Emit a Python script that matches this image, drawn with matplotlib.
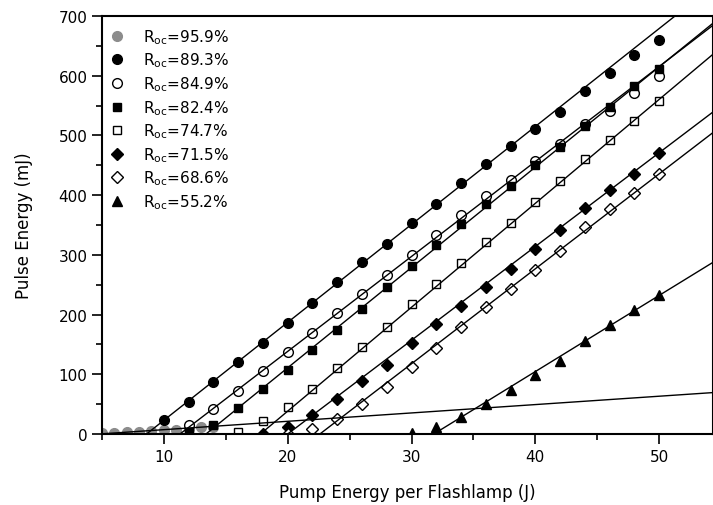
import matplotlib
matplotlib.use("Agg")
import matplotlib.pyplot as plt
import numpy as np

# ── Data ──────────────────────────────────────────────────────────────────────
labels = ["95.9%", "89.3%", "84.9%", "82.4%", "74.7%", "71.5%", "68.6%", "55.2%"]

x_959 = np.arange(5, 15, 1)
y_959 = [1, 2, 3, 4, 5.5, 7, 7.5, 9, 11, 12.5]

x_893 = np.arange(10, 51, 2)
y_893 = [23, 54, 87, 121, 153, 186, 219, 254, 288, 319, 353, 386, 420, 452,
         483, 511, 540, 575, 605, 634, 659]

x_849 = np.arange(12, 51, 2)
y_849 = [15, 42, 72, 105, 138, 169, 202, 235, 266, 300, 334, 366, 398, 425,
         457, 486, 519, 541, 571, 600]

x_824 = np.arange(12, 51, 2)
y_824 = [3, 15, 43, 75, 107, 141, 175, 210, 246, 281, 316, 352, 386, 416,
         450, 480, 515, 547, 582, 612]

x_747 = np.arange(16, 51, 2)
y_747 = [4, 21, 45, 76, 110, 146, 180, 218, 251, 287, 321, 354, 389, 424,
         460, 492, 524, 557]

x_715 = np.arange(18, 51, 2)
y_715 = [0, 12, 31, 59, 88, 116, 152, 184, 214, 246, 277, 310, 341, 378,
         408, 436, 471]

x_686 = np.arange(20, 51, 2)
y_686 = [0, 9, 25, 51, 79, 113, 144, 180, 213, 243, 274, 307, 346, 376,
         404, 436]

x_552 = np.arange(30, 51, 2)
y_552 = [2, 12, 28, 50, 73, 98, 123, 156, 183, 207, 232]

# linear fits: threshold (J) and slope (mJ/J)
fit_thr   = [4.8, 8.6, 11.3, 13.4, 17.8, 20.0, 22.6, 31.8]
fit_slope = [1.4, 16.4, 15.9, 16.8, 17.4, 15.7, 15.9, 12.75]

xs = [x_959, x_893, x_849, x_824, x_747, x_715, x_686, x_552]
ys = [y_959, y_893, y_849, y_824, y_747, y_715, y_686, y_552]

markers = ["o", "o", "o", "s", "s", "D", "D", "^"]
faces   = ["#8c8c8c", "black", "white", "black", "white", "black", "white", "black"]
edges   = ["#8c8c8c", "black", "black", "black", "black", "black", "black", "black"]
sizes   = [7, 7, 7, 6, 6, 6, 6, 7.5]

# ── Figure ────────────────────────────────────────────────────────────────────
fig = plt.figure(figsize=(7.13, 5.06), dpi=100)
ax = fig.add_axes([0.143, 0.1403, 0.857, 0.8261])

for i in range(len(labels)):
    ax.plot(xs[i], ys[i], linestyle="none", marker=markers[i], ms=sizes[i],
            mfc=faces[i], mec=edges[i], mew=1.0, zorder=2,
            label=r"R$\mathregular{_{oc}}$=" + labels[i])
    xf = np.array([fit_thr[i], 60])
    ax.plot(xf, fit_slope[i] * (xf - fit_thr[i]), color="black", lw=1.0,
            zorder=3)

ax.set_xlim(5, 54.35)
ax.set_ylim(0, 700)
ax.set_xticks([10, 20, 30, 40, 50])
ax.set_xticks([5, 15, 25, 35, 45], minor=True)
ax.set_yticks(np.arange(0, 701, 100))
ax.set_yticks(np.arange(50, 700, 100), minor=True)
ax.tick_params(which="major", direction="out", length=7, width=1.2, labelsize=11)
ax.tick_params(which="minor", direction="out", length=4, width=1.2)
for s in ax.spines.values():
    s.set_linewidth(1.5)

ax.set_xlabel("Pump Energy per Flashlamp (J)", fontsize=12, labelpad=14)
ax.set_ylabel("Pulse Energy (mJ)", fontsize=12, labelpad=18)

ax.legend(loc="upper left", bbox_to_anchor=(-0.005, 0.999), frameon=False,
          fontsize=11, handlelength=1.0, handletextpad=1.2,
          labelspacing=0.32, borderaxespad=0.3)

fig.savefig("out.png", dpi=100)
